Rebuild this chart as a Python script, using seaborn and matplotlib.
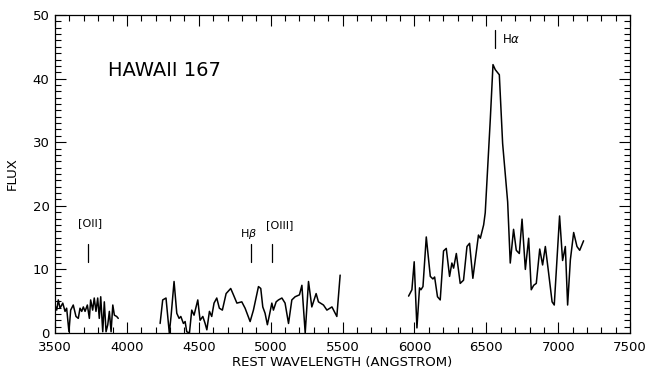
import numpy as np
import pandas as pd
import matplotlib
matplotlib.use("Agg")
import matplotlib.pyplot as plt
import seaborn as sns
from matplotlib.ticker import MultipleLocator

# Segment 1 (blue end)
wave1 = [3500, 3512, 3523, 3535, 3554, 3570, 3581, 3597, 3609, 3627, 3646, 3662,
         3674, 3686, 3697, 3709, 3725, 3739, 3748, 3762, 3773, 3785, 3797, 3808,
         3818, 3832, 3843, 3855, 3867, 3878, 3890, 3902, 3913, 3929, 3940]
flux1 = [4.4, 3.6, 5.2, 3.9, 4.7, 3.4, 3.9, 0.2, 3.6, 4.4, 2.6, 2.3,
         3.9, 3.4, 4.1, 3.4, 4.4, 2.3, 5.2, 3.6, 5.5, 3.4, 5.5, 2.3,
         5.7, 0.2, 4.9, 0.2, 1.3, 3.4, 0.2, 4.4, 2.8, 2.6, 2.3]

# Segment 2 (middle)
wave2 = [4231, 4249, 4272, 4295, 4307, 4328, 4347, 4363, 4375, 4393, 4405, 4416,
         4435, 4451, 4467, 4493, 4509, 4528, 4544, 4556, 4574, 4590, 4606, 4625,
         4643, 4664, 4690, 4722, 4741, 4765, 4799, 4822, 4857, 4880, 4915, 4931,
         4945, 4961, 4977, 4991, 5008, 5019, 5038, 5054, 5078, 5100, 5124, 5147,
         5170, 5200, 5217, 5240, 5263, 5286, 5316, 5332, 5367, 5391, 5426, 5460,
         5483]
flux2 = [1.5, 5.2, 5.5, 0.0, 2.6, 8.1, 3.1, 2.3, 2.6, 1.5, 1.8, 0.2,
         0.0, 3.6, 2.8, 5.2, 2.0, 2.6, 1.5, 0.5, 3.4, 2.6, 4.7, 5.5,
         3.9, 3.6, 6.2, 7.0, 6.0, 4.7, 4.9, 3.9, 1.8, 3.6, 7.3, 7.0,
         4.1, 3.1, 1.3, 2.8, 4.7, 3.6, 4.9, 5.2, 5.5, 4.7, 1.5, 5.2,
         5.7, 6.0, 7.5, 0.0, 8.1, 4.1, 6.2, 4.9, 4.4, 3.6, 4.1, 2.6,
         9.1]

# Segment 3 (red end, H-alpha)
wave3 = [5959, 5982, 5998, 6017, 6035, 6045, 6059, 6082, 6110, 6128, 6140, 6160,
         6179, 6202, 6221, 6244, 6260, 6272, 6291, 6318, 6341, 6365, 6383, 6406,
         6445, 6458, 6481, 6492, 6527, 6546, 6562, 6590, 6613, 6648, 6666, 6689,
         6708, 6729, 6748, 6771, 6794, 6812, 6829, 6847, 6871, 6891, 6910, 6933,
         6957, 6972, 7009, 7030, 7049, 7065, 7084, 7107, 7130, 7149, 7176]
flux3 = [5.8, 6.8, 11.2, 0.8, 7.1, 6.8, 7.3, 15.1, 8.9, 8.5, 8.8, 5.7,
         5.2, 12.9, 13.3, 8.9, 11.0, 10.2, 12.5, 7.8, 8.3, 13.6, 14.1, 8.6,
         15.4, 14.9, 17.0, 18.9, 33.5, 42.2, 41.4, 40.6, 29.8, 20.6, 11.0, 16.3,
         13.0, 12.5, 17.9, 10.0, 14.9, 6.8, 7.5, 7.8, 13.2, 10.7, 13.6, 9.4,
         4.9, 4.4, 18.4, 11.4, 13.6, 4.4, 11.5, 15.8, 13.6, 13.0, 14.5]

line_labels = ["[OII]", "H$\\beta$", "[OIII]"]
line_waves = [3727, 4861, 5007]

df = pd.concat([
    pd.DataFrame({"wave": wave1, "flux": flux1, "seg": 1}),
    pd.DataFrame({"wave": wave2, "flux": flux2, "seg": 2}),
    pd.DataFrame({"wave": wave3, "flux": flux3, "seg": 3}),
], ignore_index=True)

sns.set_style("ticks")
plt.rcParams["font.family"] = ["DejaVu Sans"]
plt.rcParams["text.color"] = "black"
plt.rcParams["axes.labelcolor"] = "black"

fig = plt.figure(figsize=(6.47, 3.75), dpi=100)
ax = fig.add_axes([0.085, 0.112, 0.889, 0.848])

sns.lineplot(data=df, x="wave", y="flux", units="seg", estimator=None,
             color="black", linewidth=1.1, ax=ax, sort=False)

ax.set_xlim(3500, 7500)
ax.set_ylim(0, 50)
ax.xaxis.set_major_locator(MultipleLocator(500))
ax.xaxis.set_minor_locator(MultipleLocator(100))
ax.yaxis.set_major_locator(MultipleLocator(10))
ax.yaxis.set_minor_locator(MultipleLocator(1))
ax.tick_params(which="both", direction="in", top=True, right=True,
               colors="black", labelsize=9.5, width=0.8)
ax.tick_params(which="major", length=8)
ax.tick_params(which="minor", length=4)
ax.tick_params(axis="x", pad=6)
ax.tick_params(axis="y", pad=4)
for lbl in ax.get_yticklabels():
    lbl.set_va("center_baseline")
for s in ax.spines.values():
    s.set_color("black")
    s.set_linewidth(0.9)

ax.set_xlabel("REST WAVELENGTH (ANGSTROM)", fontsize=9.5, labelpad=1)
ax.set_ylabel("FLUX", fontsize=9.5, labelpad=10)

ax.text(3870, 41.3, "HAWAII 167", fontsize=14, va="center", ha="left")

# emission line markers
for lab, w in zip(line_labels, line_waves):
    ax.plot([w, w], [11.2, 14.0], color="black", linewidth=0.9)
y_txt = {"[OII]": 17.3, "H$\\beta$": 15.6, "[OIII]": 17.0}
x_off = {"[OII]": 15, "H$\\beta$": -15, "[OIII]": 55}
for lab, w in zip(line_labels, line_waves):
    ax.text(w + x_off[lab], y_txt[lab], lab, fontsize=8, ha="center", va="center")

ax.plot([6563, 6563], [44.8, 47.6], color="black", linewidth=0.9)
ax.text(6610, 46.2, "H$\\alpha$", fontsize=8.5, ha="left", va="center")

fig.savefig("out.png", dpi=100)
